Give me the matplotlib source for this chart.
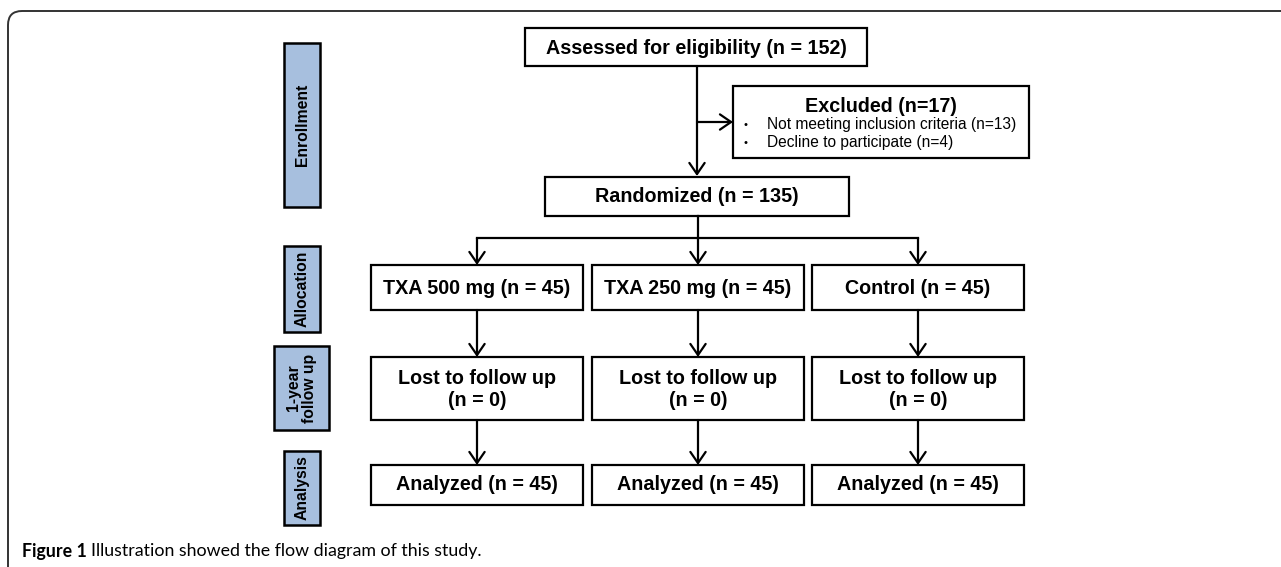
import matplotlib.pyplot as plt
from matplotlib.patches import Rectangle, FancyArrowPatch
from matplotlib.path import Path
from matplotlib.patches import PathPatch

plt.rcParams['font.family'] = ['Liberation Sans', 'DejaVu Sans']

# flow data
n_assessed = 152
n_excluded = 17
excluded_reasons = ["Not meeting inclusion criteria", "Decline to participate"]
excluded_counts = [13, 4]
n_randomized = 135
groups = ["TXA 500 mg", "TXA 250 mg", "Control"]
group_n = [45, 45, 45]
lost_n = [0, 0, 0]
analyzed_n = [45, 45, 45]
stages = ["Enrollment", "Allocation", "1-year\nfollow up", "Analysis"]

fig = plt.figure(figsize=(12.81, 5.67), dpi=100)
ax = fig.add_axes([0, 0, 1, 1])
ax.set_xlim(0, 1281)
ax.set_ylim(567, 0)
ax.axis('off')

LW = 1.6
FS = 14.2


def box(x0, y0, x1, y1, fc='white', lw=LW):
    ax.add_patch(Rectangle((x0, y0), x1 - x0, y1 - y0, fc=fc, ec='black', lw=lw))


def arrow(x0, y0, x1, y1):
    ax.add_patch(FancyArrowPatch((x0, y0), (x1, y1), arrowstyle='->,head_length=8,head_width=5.5',
                                 mutation_scale=1, lw=LW, color='black', shrinkA=0, shrinkB=0))


def line(xs, ys):
    ax.plot(xs, ys, color='black', lw=LW, solid_capstyle='projecting')


# outer frame with rounded top-left corner
verts = [(8, 567), (8, 25), (8, 11), (22, 11), (1281, 11)]
codes = [Path.MOVETO, Path.LINETO, Path.CURVE3, Path.CURVE3, Path.LINETO]
ax.add_patch(PathPatch(Path(verts, codes), fc='none', ec='#333333', lw=1.4))

# enrollment
box(525, 28, 867, 66)
ax.text(696, 48, f"Assessed for eligibility (n = {n_assessed})", ha='center', va='center',
        fontsize=FS, fontweight='bold')
arrow(697, 66, 697, 176)
arrow(697, 122, 733, 122)

box(733, 86, 1029, 158)
ax.text(881, 106, f"Excluded (n={n_excluded})", ha='center', va='center', fontsize=FS, fontweight='bold')
for i, (r, c) in enumerate(zip(excluded_reasons, excluded_counts)):
    y = 125 + i * 18
    ax.text(745, y, "\u2022", ha='center', va='center', fontsize=8)
    ax.text(767, y, f"{r} (n={c})", ha='left', va='center', fontsize=11.2)

box(545, 177, 849, 216)
ax.text(697, 197, f"Randomized (n = {n_randomized})", ha='center', va='center',
        fontsize=FS, fontweight='bold')

# branches
centers = [477, 698, 918]
line([698, 698], [216, 238])
line([centers[0], centers[-1]], [238, 238])
for cx in centers:
    arrow(cx, 238, cx, 265)

half = 106
for cx, g, n, lost, an in zip(centers, groups, group_n, lost_n, analyzed_n):
    box(cx - half, 265, cx + half, 310)
    ax.text(cx, 288, f"{g} (n = {n})", ha='center', va='center', fontsize=FS, fontweight='bold')
    arrow(cx, 310, cx, 357)
    box(cx - half, 357, cx + half, 420)
    ax.text(cx, 378, "Lost to follow up", ha='center', va='center', fontsize=FS, fontweight='bold')
    ax.text(cx, 401, f"(n = {lost})", ha='center', va='center', fontsize=FS, fontweight='bold')
    arrow(cx, 420, cx, 465)
    box(cx - half, 465, cx + half, 505)
    ax.text(cx, 485, f"Analyzed (n = {an})", ha='center', va='center', fontsize=FS, fontweight='bold')

# stage labels
stage_boxes = [(284, 43, 320, 207), (284, 246, 320, 332), (274, 346, 329, 430), (284, 451, 320, 525)]
for (x0, y0, x1, y1), s in zip(stage_boxes, stages):
    box(x0, y0, x1, y1, fc='#a7bfde', lw=1.8)
    ax.text((x0 + x1) / 2, (y0 + y1) / 2, s, ha='center', va='center', rotation=90,
            fontsize=11.3, fontweight='bold', linespacing=1.15)

# caption
ax.text(22, 551, "Figure 1", ha='left', va='center', fontsize=12.8, fontweight='bold',
        family=['Lato', 'DejaVu Sans'])
ax.text(91, 551, "Illustration showed the flow diagram of this study.", ha='left', va='center',
        fontsize=12.8, family=['Lato', 'DejaVu Sans'])

fig.savefig('out.png', dpi=100)
